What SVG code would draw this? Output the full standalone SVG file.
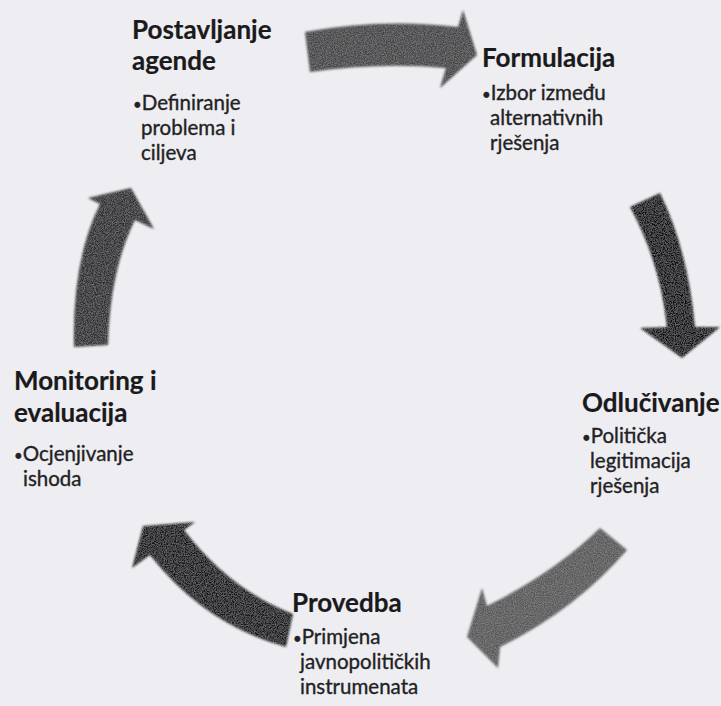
<svg xmlns="http://www.w3.org/2000/svg" width="721" height="706" viewBox="0 0 721 706">
<style>
.h{font-family:Lato,"Open Sans",sans-serif;font-weight:700;font-size:26px;fill:#1a1a1c;stroke:#1a1a1c;stroke-width:0.2}
.b{font-family:Lato,"Open Sans",sans-serif;font-weight:400;font-size:20.5px;fill:#222224;stroke:#222224;stroke-width:0.35}
.d{font-size:15px}
</style>
<defs>
<filter id="grain" x="-10%" y="-10%" width="120%" height="120%">
<feGaussianBlur in="SourceGraphic" stdDeviation="0.9" result="b"/>
<feTurbulence type="fractalNoise" baseFrequency="0.9" numOctaves="2" seed="5" result="t"/>
<feColorMatrix in="t" type="matrix" values="0 0 0 0 1  0 0 0 0 1  0 0 0 0 1  0.3 0 0 0 -0.1" result="w"/>
<feComposite in="w" in2="b" operator="in" result="wc"/>
<feMerge><feMergeNode in="b"/><feMergeNode in="wc"/></feMerge>
</filter>
</defs>
<rect width="721" height="706" fill="#eeedf1"/>
<g id="connectors" filter="url(#grain)">
<path id="a1" fill="#454547" d="M305,32 Q380,18 458,27 L463,10 L477,55 L440,88 L446,68 Q380,62 310,72 Z"/>
<path id="a2" fill="#111113" d="M630,207 L660,193 Q688,250 695,327 L720,327 L682,358 L640,328 L667,327 Q660,262 630,207 Z"/>
<path id="a3" fill="#58585a" d="M600,528 L627,550 Q575,610 500,647 L498,668 L467,637 L482,588 L487,606 Q555,572 600,528 Z"/>
<path id="a4" fill="#18181a" d="M293,614 L286,647 Q205,625 150,555 L132,568 L143,526 L195,522 L184,530 Q230,590 293,614 Z"/>
<path id="a5" fill="#2e2e30" d="M74,347 Q72,260 100,204 L88,198 L131,188 L154,229 L135,220 Q110,270 108,345 Z"/>
</g>
<g id="node-postavljanje">
<text class="h" x="132" y="39">Postavljanje</text>
<text class="h" x="132" y="70">agende</text>
<text class="b" x="133" y="110"><tspan class="d">•</tspan>Definiranje</text>
<text class="b" x="141" y="135">problema i</text>
<text class="b" x="141" y="160">ciljeva</text>
</g>
<g id="node-formulacija">
<text class="h" x="482" y="67">Formulacija</text>
<text class="b" x="482" y="100"><tspan class="d">•</tspan>Izbor između</text>
<text class="b" x="490" y="125">alternativnih</text>
<text class="b" x="490" y="150">rješenja</text>
</g>
<g id="node-odlucivanje">
<text class="h" x="582" y="412">Odlučivanje</text>
<text class="b" x="582" y="443"><tspan class="d">•</tspan>Politička</text>
<text class="b" x="590" y="468">legitimacija</text>
<text class="b" x="590" y="493">rješenja</text>
</g>
<g id="node-provedba">
<text class="h" x="292" y="612">Provedba</text>
<text class="b" x="293" y="644"><tspan class="d">•</tspan>Primjena</text>
<text class="b" x="300" y="669">javnopolitičkih</text>
<text class="b" x="300" y="694">instrumenata</text>
</g>
<g id="node-monitoring">
<text class="h" x="14" y="390">Monitoring i</text>
<text class="h" x="14" y="422">evaluacija</text>
<text class="b" x="14" y="461"><tspan class="d">•</tspan>Ocjenjivanje</text>
<text class="b" x="23" y="486">ishoda</text>
</g>
</svg>
